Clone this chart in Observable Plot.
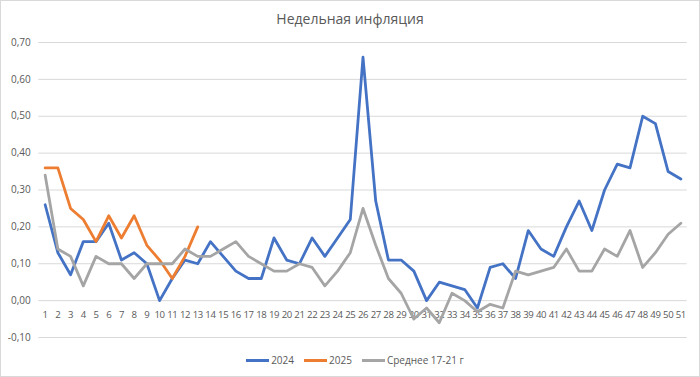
<!DOCTYPE html>
<html><head><meta charset="utf-8">
<script src="https://cdn.jsdelivr.net/npm/d3@7"></script>
<script src="https://cdn.jsdelivr.net/npm/@observablehq/plot@0.6"></script>
<style>
body{margin:0;background:#fff;}
#wrap{width:700px;height:377px;box-sizing:border-box;border:1px solid #d9d9d9;position:relative;overflow:hidden;font-family:"Open Sans",sans-serif;background:#fff;}
#title{height:35px;line-height:36px;text-align:center;font-size:14px;color:#595959;}
#chart svg{display:block;}
#chart .xl text{letter-spacing:-0.4px;}
#legend{height:28px;display:flex;justify-content:center;align-items:center;font-size:10px;color:#595959;padding-left:10px;}
.item{display:flex;align-items:center;margin:0 5px;}
.sw{display:inline-block;width:23px;height:3px;margin-right:2px;}
</style></head><body>
<div id="wrap"><div id="title">Недельная инфляция</div><div id="chart"></div><div id="legend"></div></div>
<script>
const weeks = d3.range(1, 52);
const s2024 = [0.26,0.13,0.07,0.16,0.16,0.21,0.11,0.13,0.10,0.00,
  0.06,0.11,0.10,0.16,0.12,0.08,0.06,0.06,0.17,0.11,
  0.10,0.17,0.12,0.17,0.22,0.66,0.27,0.11,0.11,0.08,
  0.00,0.05,0.04,0.03,-0.02,0.09,0.10,0.06,0.19,0.14,
  0.12,0.20,0.27,0.19,0.30,0.37,0.36,0.50,0.48,0.35,0.33];
const s2025 = [0.36,0.36,0.25,0.22,0.16,0.23,0.17,0.23,0.15,0.11,0.06,0.12,0.20];
const sAvg = [0.34,0.14,0.12,0.04,0.12,0.10,0.10,0.06,0.10,0.10,
  0.10,0.14,0.12,0.12,0.14,0.16,0.12,0.10,0.08,0.08,
  0.10,0.09,0.04,0.08,0.13,0.25,0.15,0.06,0.02,-0.05,
  -0.02,-0.06,0.02,0.00,-0.03,-0.01,-0.02,0.08,0.07,0.08,
  0.09,0.14,0.08,0.08,0.14,0.12,0.19,0.09,0.13,0.18,0.21];
const seriesNames = ["2024", "2025", "Среднее 17-21 г"];
const seriesColors = ["#4472C4", "#ED7D31", "#A5A5A5"];
const yTicks = [-0.1, 0, 0.1, 0.2, 0.3, 0.4, 0.5, 0.6, 0.7];

const rows = [];
[s2024, s2025, sAvg].forEach((arr, i) => arr.forEach((v, j) => rows.push({week: weeks[j], value: v, series: seriesNames[i]})));
const fmt = d => d3.format(".2f")(d).replace(".", ",").replace("−", "-");

const chart = Plot.plot({
  width: 698, height: 310,
  marginLeft: 37.3, marginRight: 12.3, marginTop: 6, marginBottom: 9,
  style: {fontFamily: "'Open Sans', sans-serif", color: "#595959", background: "#fff"},
  x: {type: "point", domain: weeks, padding: 0.5, axis: null},
  y: {domain: [-0.1, 0.7], axis: null},
  color: {domain: seriesNames, range: seriesColors},
  marks: [
    Plot.gridY(yTicks, {stroke: "#d9d9d9", strokeOpacity: 1, strokeWidth: 1}),
    Plot.axisY(yTicks, {tickSize: 0, tickPadding: 8, tickFormat: fmt, fontSize: 10, label: null}),
    Plot.text(weeks, {x: d => d, y: () => 0, text: d => String(d), dy: 14, fill: "#595959", fontSize: 9.6, className: "xl"}),
    Plot.line(rows, {x: "week", y: "value", z: "series", stroke: "series", strokeWidth: 2.8, strokeLinejoin: "round", strokeLinecap: "round"})
  ]
});
document.getElementById("chart").appendChild(chart);

const leg = document.getElementById("legend");
seriesNames.forEach((n, i) => {
  const it = document.createElement("div"); it.className = "item";
  const sw = document.createElement("span"); sw.className = "sw"; sw.style.background = seriesColors[i];
  const t = document.createElement("span"); t.textContent = n;
  it.appendChild(sw); it.appendChild(t); leg.appendChild(it);
});
</script>
</body></html>
